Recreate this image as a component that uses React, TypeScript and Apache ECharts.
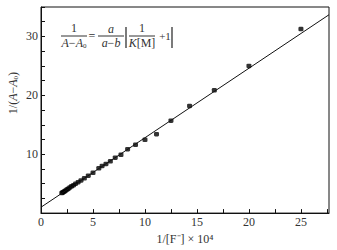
import React, { useEffect, useRef } from "react";
import * as echarts from "echarts";

const invF = [25, 20, 16.67, 14.29, 12.5, 11.11, 10, 9.09, 8.33, 7.69, 7.14, 6.67, 6.25, 5.88, 5.56, 5.0, 4.55, 4.17, 3.85, 3.57, 3.33, 3.13, 2.94, 2.78, 2.63, 2.5, 2.38, 2.27, 2.17, 2.08, 2.0];
const invA = [31.25, 25.0, 20.85, 18.2, 15.7, 13.4, 12.45, 11.6, 10.85, 9.9, 9.4, 8.8, 8.35, 8.0, 7.6, 6.85, 6.35, 5.9, 5.55, 5.25, 5.0, 4.75, 4.55, 4.35, 4.15, 4.0, 3.85, 3.7, 3.6, 3.5, 3.4];
const fitX = [0, 27.7];
const fitIntercept = 1.0;
const fitSlope = 1.18;
const xTickLabels = ["0", "5", "10", "15", "20", "25"];
const yTickLabels = ["10", "20", "30"];

const FONT = "'Liberation Serif', 'Times New Roman', serif";
const TXT = "#333";
const LINE = "#111";

export default function App() {
  const ref = useRef<HTMLDivElement>(null);
  useEffect(() => {
    const chart = echarts.init(ref.current!, undefined, { renderer: "svg" });
    const pts = invF.map((x, i) => [x, invA[i]]);
    const fit = fitX.map((x) => [x, fitIntercept + fitSlope * x]);
    const rich = {
      i: { fontFamily: FONT, fontSize: 12, fontStyle: "italic", fill: TXT, color: TXT },
      n: { fontFamily: FONT, fontSize: 12, fill: TXT, color: TXT },
      s: { fontFamily: FONT, fontSize: 7, fill: TXT, color: TXT, verticalAlign: "bottom", padding: [6, 0, 0, 0] },
    };
    const txt = (x: number, y: number, text: string, extra: any = {}) => ({
      type: "text",
      x,
      y,
      style: {
        text,
        fontFamily: FONT,
        fontSize: 12,
        fill: TXT,
        align: "center",
        verticalAlign: "middle",
        rich,
        ...extra,
      },
    });
    const ln = (x1: number, y1: number, x2: number, y2: number, w = 1) => ({
      type: "line",
      shape: { x1, y1, x2, y2 },
      style: { stroke: TXT, lineWidth: w },
    });
    chart.setOption({
      animation: false,
      grid: { left: 41, right: 8, top: 7, bottom: 36, show: true, borderColor: LINE, borderWidth: 1, backgroundColor: "transparent" },
      xAxis: {
        type: "value",
        min: 0,
        max: 27.7,
        interval: 2.5,
        splitLine: { show: false },
        axisLine: { lineStyle: { color: LINE } },
        axisTick: { inside: true, length: 4, lineStyle: { color: LINE } },
        axisLabel: {
          fontFamily: FONT,
          fontSize: 12,
          color: TXT,
          margin: 3,
          showMaxLabel: false,
          formatter: (v: number) => (xTickLabels.includes(String(v)) ? String(v) : ""),
        },
        name: "1/[F⁻] × 10⁴",
        nameLocation: "middle",
        nameGap: 18,
        nameTextStyle: { fontFamily: FONT, fontSize: 12, color: TXT },
      },
      yAxis: {
        type: "value",
        min: 0,
        max: 35,
        interval: 2.5,
        splitLine: { show: false },
        axisLine: { lineStyle: { color: LINE } },
        axisTick: { inside: true, length: 4, lineStyle: { color: LINE } },
        axisLabel: {
          fontFamily: FONT,
          fontSize: 12,
          color: TXT,
          margin: 3,
          formatter: (v: number) => (yTickLabels.includes(String(v)) ? String(v) : ""),
        },
      },
      graphic: [
        {
          type: "text",
          x: 13,
          y: 93,
          rotation: Math.PI / 2,
          style: {
            text: "{n|1/(}{i|A}{n|−}{i|A}{s|0}{n|)}",
            rich,
            align: "center",
            verticalAlign: "middle",
          },
        },
        txt(74, 28, "1"),
        ln(61, 36, 87, 36),
        txt(74, 43, "{i|A}{n|−}{i|A}{s|0}"),
        txt(92, 36, "="),
        txt(111, 29, "{i|a}"),
        ln(98, 36, 124, 36),
        txt(111, 43, "{i|a}{n|−}{i|b}"),
        ln(126, 27, 126, 48, 1.3),
        txt(142, 28, "1"),
        ln(129, 36, 155, 36),
        txt(142, 43, "{i|K}{n|[M]}"),
        txt(165, 36, "+1", { fontSize: 11 }),
        ln(172, 27, 172, 48, 1.3),
      ],
      series: [
        {
          type: "line",
          data: fit,
          symbol: "none",
          lineStyle: { color: LINE, width: 1 },
          silent: true,
        },
        {
          type: "scatter",
          data: pts,
          symbol: "roundRect",
          symbolSize: [5, 4.5],
          itemStyle: { color: "#000" },
        },
      ],
    });
    return () => chart.dispose();
  }, []);
  return <div ref={ref} style={{ width: 337, height: 250, position: "absolute", left: 0, top: 0 }} />;
}
